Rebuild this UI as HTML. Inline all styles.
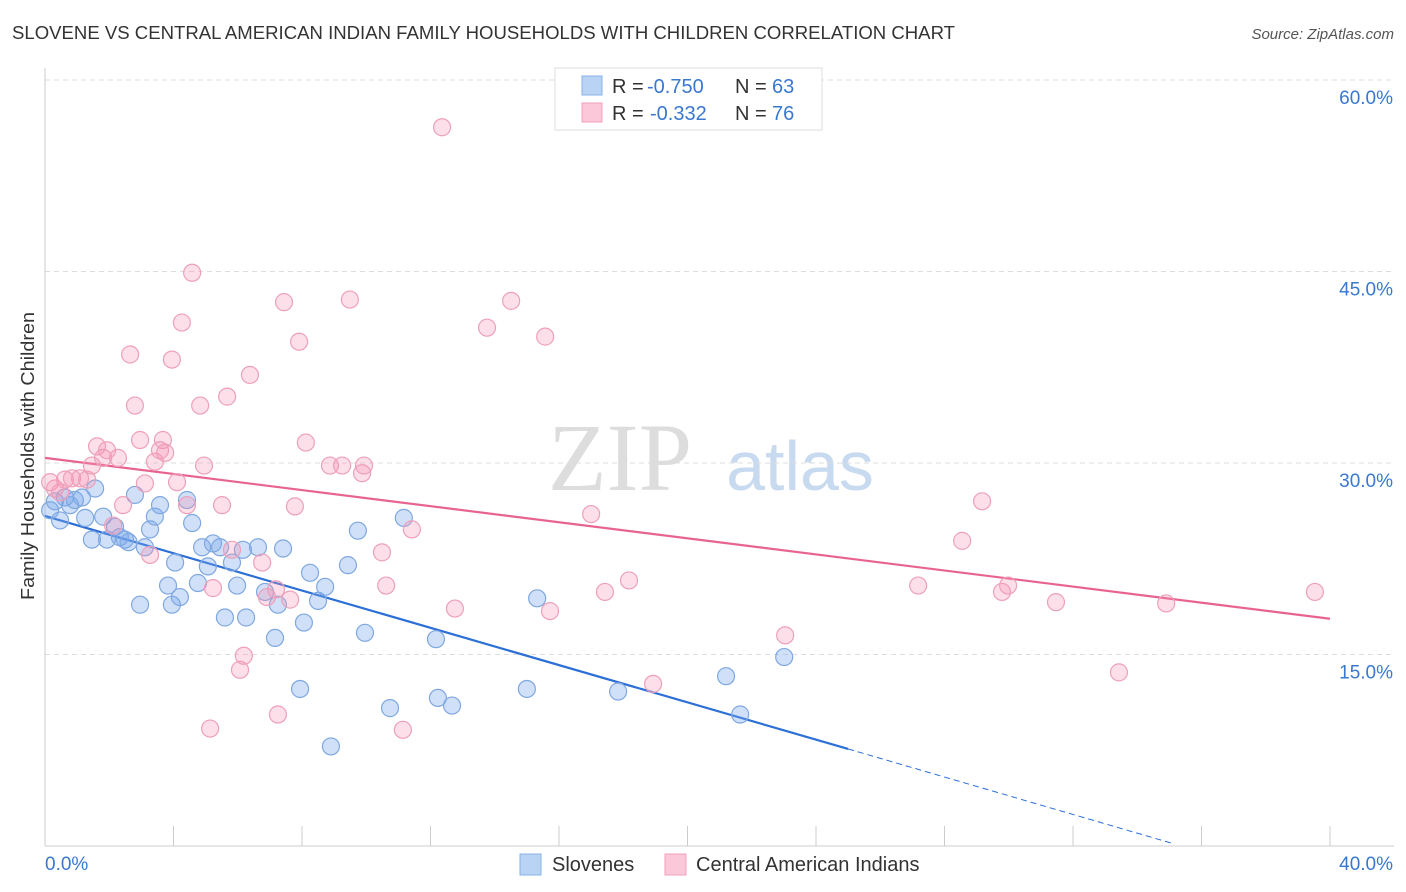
<!DOCTYPE html>
<html><head><meta charset="utf-8"><style>
body{margin:0;background:#fff;font-family:"Liberation Sans",sans-serif}
svg{display:block}
</style></head><body>
<svg id="chart" width="1406" height="892" xmlns="http://www.w3.org/2000/svg" font-family="Liberation Sans, sans-serif">
<text x="12" y="39" font-size="18" fill="#333" textLength="943" lengthAdjust="spacingAndGlyphs">SLOVENE VS CENTRAL AMERICAN INDIAN FAMILY HOUSEHOLDS WITH CHILDREN CORRELATION CHART</text>
<text x="1394" y="39" font-size="15" fill="#555" font-style="italic" text-anchor="end">Source: ZipAtlas.com</text>
<text x="620" y="490" font-size="96" fill="#ddd" font-family="Liberation Serif, serif" text-anchor="middle">ZIP</text>
<text x="800" y="490" font-size="70" fill="#c8daf0" text-anchor="middle">atlas</text>
<text transform="translate(34,456) rotate(-90)" font-size="18" fill="#333" text-anchor="middle" textLength="288" lengthAdjust="spacingAndGlyphs">Family Households with Children</text>
<g id="grid"></g><g id="axes"></g><g id="lines"></g><g id="pts"></g>
<g>
<rect x="555" y="68" width="267" height="62" fill="#fff" stroke="#ddd"/>
<rect x="582" y="76" width="20" height="19" fill="#b9d3f5" stroke="#8ab2e8"/>
<rect x="582" y="103" width="20" height="19" fill="#fac8d8" stroke="#f0a0bb"/>
<text x="612" y="93" font-size="20" fill="#333">R =</text>
<text x="647" y="93" font-size="20" fill="#3a78d0">-0.750</text>
<text x="735" y="93" font-size="20" fill="#333">N =</text>
<text x="772" y="93" font-size="20" fill="#3a78d0">63</text>
<text x="612" y="120" font-size="20" fill="#333">R =</text>
<text x="650" y="120" font-size="20" fill="#3a78d0">-0.332</text>
<text x="735" y="120" font-size="20" fill="#333">N =</text>
<text x="772" y="120" font-size="20" fill="#3a78d0">76</text>
</g>
<g>
<rect x="520" y="854" width="21" height="21" fill="#b9d3f5" stroke="#8ab2e8"/>
<text x="552" y="871" font-size="20" fill="#333">Slovenes</text>
<rect x="665" y="854" width="21" height="21" fill="#fac8d8" stroke="#f0a0bb"/>
<text x="696" y="871" font-size="20" fill="#333">Central American Indians</text>
</g>
</svg>
<script>
const blueX=[0.16,0.31,0.47,0.62,0.78,0.93,1.15,1.25,1.56,1.46,1.81,1.93,2.18,2.33,2.49,2.6,2.8,2.96,3.11,3.27,3.42,3.58,3.83,3.95,4.05,4.2,4.42,4.58,4.76,4.89,5.07,5.23,5.45,5.6,5.82,5.98,6.16,6.26,6.63,6.85,7.16,7.25,7.41,7.94,8.06,8.25,8.5,8.72,8.9,9.43,9.74,9.96,10.74,11.17,12.17,12.23,12.67,15.0,15.32,17.84,21.2,21.64,23.01];
const blueY=[26.3,27.0,25.5,27.3,26.7,27.1,27.3,25.7,28.0,24.0,25.8,24.0,25.0,24.2,24.0,23.8,27.5,18.9,23.4,24.8,25.8,26.7,20.4,18.9,22.2,19.5,27.1,25.3,20.6,23.4,21.9,23.7,23.4,17.9,22.2,20.4,23.2,17.9,23.4,19.9,16.3,18.9,23.3,12.3,17.5,21.4,19.2,20.3,7.8,22.0,24.7,16.7,10.8,25.7,16.2,11.6,11.0,12.3,19.4,12.1,13.3,10.3,14.8];
const pinkX=[0.16,0.31,0.47,0.62,0.84,1.09,1.31,1.46,1.62,1.81,1.93,2.12,2.27,2.43,2.65,2.8,2.96,3.11,3.27,3.42,3.58,3.67,3.74,3.95,4.11,4.26,4.42,4.58,4.83,4.95,5.23,5.14,5.51,5.67,5.82,6.07,6.19,6.38,6.76,6.91,7.19,7.25,7.44,7.63,7.78,7.91,8.12,8.87,9.25,9.49,9.87,9.93,10.49,10.62,11.14,11.42,12.36,12.76,13.76,14.51,15.57,15.72,17.0,17.43,18.18,18.93,23.04,27.18,28.55,29.17,29.79,29.98,31.47,33.43,34.9,39.53];
const pinkY=[28.5,28.0,27.7,28.7,28.8,28.8,28.7,29.8,31.3,30.4,31.0,25.1,30.4,26.7,38.5,34.5,31.8,28.4,22.8,30.1,31.0,31.8,30.8,38.1,28.5,41.0,26.7,44.9,34.5,29.8,20.2,9.2,26.7,35.2,23.2,13.8,14.9,36.9,22.2,19.5,20.1,10.3,42.6,19.3,26.6,39.5,31.6,29.8,29.8,42.8,29.2,29.8,23.0,20.4,9.1,24.8,56.3,18.6,40.6,42.7,39.9,18.4,26.0,19.9,20.8,12.7,16.5,20.4,23.9,27.0,19.9,20.4,19.1,13.6,19.0,19.9];
const yTicks=[15,30,45,60];
const yTickLabels=["15.0%","30.0%","45.0%","60.0%"];
const blueTrend=[0,25.85,25,7.6,35.1,0.2];
const pinkTrend=[0,30.4,40,17.8];
const NS="http://www.w3.org/2000/svg";
const sx=v=>45+v/40*1285, sy=v=>846-v/15*191.5;
function mk(p,t,a){const e=document.createElementNS(NS,t);for(const k in a)e.setAttribute(k,a[k]);document.getElementById(p).appendChild(e);return e;}
yTicks.forEach((t,i)=>{
 const g=mk('grid','line',{x1:45,x2:1394,y1:sy(t),y2:sy(t),stroke:'#ddd','stroke-dasharray':'5,4'});
 
 
 const l=mk('axes','text',{x:1393,y:sy(t)+24,'font-size':19,fill:'#3a78d0','text-anchor':'end'});l.textContent=yTickLabels[i];
 
 
});
const ax=mk('axes','line',{x1:45,x2:1394,y1:846,y2:846,stroke:'#ccc'});


const ay=mk('axes','line',{x1:45,x2:45,y1:68,y2:846,stroke:'#ccc'});


for(let i=1;i<=10;i++){const t=mk('axes','line',{x1:sx(i*4),x2:sx(i*4),y1:826,y2:846,stroke:'#ccc'});
 
 }
[[0,"0.0%",'start',45],[40,"40.0%",'end',1393]].forEach(d=>{const t=mk('axes','text',{x:d[3],y:870,'font-size':19,fill:'#3a78d0','text-anchor':d[2]});t.textContent=d[1];
 
 });
function pts(X,Y,fill,stroke,name){X.forEach((x,i)=>{const c=mk('pts','circle',{cx:sx(x),cy:sy(Y[i]),r:8.5,fill:fill,stroke:stroke,'stroke-width':1.2});
 
 });}
pts(blueX,blueY,'rgba(120,165,235,0.35)','#7fa8e0','slovene-point');
pts(pinkX,pinkY,'rgba(245,150,180,0.3)','#eea0ba','central-american-indian-point');
const b1=mk('lines','line',{x1:sx(blueTrend[0]),y1:sy(blueTrend[1]),x2:sx(blueTrend[2]),y2:sy(blueTrend[3]),stroke:'#2c6fd6','stroke-width':2.2});


const b2=mk('lines','line',{x1:sx(blueTrend[2]),y1:sy(blueTrend[3]),x2:sx(blueTrend[4]),y2:sy(blueTrend[5]),stroke:'#2c6fd6','stroke-width':1,'stroke-dasharray':'6,4'});


const p1=mk('lines','line',{x1:sx(pinkTrend[0]),y1:sy(pinkTrend[1]),x2:sx(pinkTrend[2]),y2:sy(pinkTrend[3]),stroke:'#e8648f','stroke-width':2.2});


</script>
</body></html>
